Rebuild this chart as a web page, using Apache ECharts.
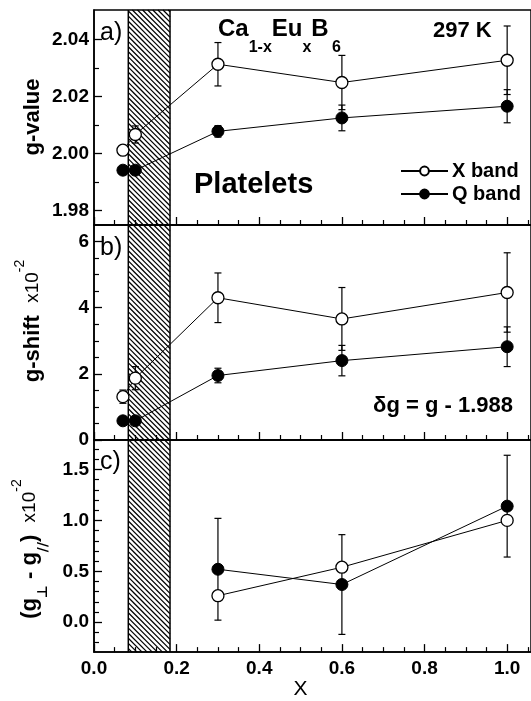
<!DOCTYPE html>
<html>
<head>
<meta charset="utf-8">
<script src="https://cdn.jsdelivr.net/npm/echarts@6/dist/echarts.min.js"></script>
<style>
html,body{margin:0;padding:0;background:#fff;}
#c{width:531px;height:701px;}
</style>
</head>
<body>
<div id="c"></div>
<script>
// ---------------- data ----------------
const xValues = [0.07, 0.1, 0.3, 0.6, 1.0];
// panel a) g-value
const gX = [2.0012, 2.0067, 2.0313, 2.0249, 2.0327];
const gXErr = [0.001, 0.003, 0.0076, 0.0095, 0.012];
const gQ = [1.9942, 1.9942, 2.0078, 2.0125, 2.0166];
const gQErr = [0, 0, 0.002, 0.0045, 0.0058];
// panel b) g-shift x10^-2
const shiftX = [1.31, 1.87, 4.30, 3.66, 4.46];
const shiftXErr = [0.2, 0.35, 0.75, 0.95, 1.2];
const shiftQ = [0.58, 0.58, 1.95, 2.40, 2.82];
const shiftQErr = [0, 0, 0.22, 0.46, 0.6];
// panel c) anisotropy x10^-2
const anisoXValues = [0.3, 0.6, 1.0];
const anisoX = [0.26, 0.54, 1.0];
const anisoQ = [0.52, 0.37, 1.14];
const anisoQErr = [0.5, 0.49, 0.5];
// hatched region
const hatchRange = [0.083, 0.184];
// ticks
const xMajor = [0, 0.2, 0.4, 0.6, 0.8, 1.0];
const xMinor = [0.05, 0.1, 0.15, 0.25, 0.3, 0.35, 0.45, 0.5, 0.55, 0.65, 0.7, 0.75, 0.85, 0.9, 0.95, 1.05];
const aMajor = [1.98, 2.00, 2.02, 2.04];
const aMinor = [1.99, 2.01, 2.03];
const bMajor = [0, 2, 4, 6];
const bMinor = [0.5, 1, 1.5, 2.5, 3, 3.5, 4.5, 5, 5.5];
const cMajor = [0.0, 0.5, 1.0, 1.5];
const cMinor = [-0.2, -0.1, 0.1, 0.2, 0.3, 0.4, 0.6, 0.7, 0.8, 0.9, 1.1, 1.2, 1.3, 1.4, 1.6, 1.7];

// ---------------- chart ----------------
const FONT = '"Liberation Sans", Arial, Helvetica, sans-serif';
const X_MAX = 1.0577;
const chart = echarts.init(document.getElementById('c'), null, {renderer: 'canvas'});

const gridTops = [10, 225, 440];
const grids = gridTops.map(t => ({
  left: 94, top: t, width: 440, height: 215,
  show: true, borderColor: '#000', borderWidth: 1.5, backgroundColor: 'rgba(0,0,0,0)'
}));

function xAxes(gi, withLabels) {
  const major = {
    type: 'value', gridIndex: gi, position: 'bottom', min: 0, max: X_MAX,
    axisLine: {show: true, onZero: false, lineStyle: {color: '#000', width: 1.5}},
    axisTick: {show: true, inside: true, length: 8, customValues: xMajor, lineStyle: {color: '#000', width: 1.3}},
    axisLabel: {show: withLabels, customValues: xMajor, formatter: v => v.toFixed(1), color: '#000',
      fontSize: 19, fontWeight: 'bold', fontFamily: FONT, margin: 7},
    splitLine: {show: false}
  };
  if (withLabels) {
    major.name = 'X';
    major.nameLocation = 'middle';
    major.nameGap = 25;
    major.nameTextStyle = {color: '#000', fontSize: 21, fontFamily: FONT, fontWeight: 'normal', padding: [0, 24, 0, 0]};
  }
  const minor = {
    type: 'value', gridIndex: gi, position: 'bottom', min: 0, max: X_MAX,
    axisLine: {show: false, onZero: false},
    axisTick: {show: true, inside: true, length: 5, customValues: xMinor, lineStyle: {color: '#000', width: 1.2}},
    axisLabel: {show: false}, splitLine: {show: false}
  };
  return [major, minor];
}

function yAxes(gi, min, max, major, minor, fmt) {
  return [
    {
      type: 'value', gridIndex: gi, position: 'left', min: min, max: max,
      axisLine: {show: true, onZero: false, lineStyle: {color: '#000', width: 1.5}},
      axisTick: {show: true, inside: true, length: 8, customValues: major, lineStyle: {color: '#000', width: 1.3}},
      axisLabel: {show: true, customValues: major, formatter: fmt, color: '#000',
        fontSize: 19, fontWeight: 'bold', fontFamily: FONT, margin: 5},
      splitLine: {show: false}
    },
    {
      type: 'value', gridIndex: gi, position: 'left', min: min, max: max,
      axisLine: {show: false, onZero: false},
      axisTick: {show: true, inside: true, length: 5, customValues: minor, lineStyle: {color: '#000', width: 1.2}},
      axisLabel: {show: false}, splitLine: {show: false}
    }
  ];
}

const xAxisList = [].concat(xAxes(0, false), xAxes(1, false), xAxes(2, true));
const yAxisList = [].concat(
  yAxes(0, 1.975, 2.0503, aMajor, aMinor, v => v.toFixed(2)),
  yAxes(1, 0, 6.5, bMajor, bMinor, v => String(Math.round(v))),
  yAxes(2, -0.294, 1.79, cMajor, cMinor, v => v.toFixed(1))
);

function errRender(params, api) {
  const x = api.value(0), lo = api.value(1), hi = api.value(2);
  if (hi - lo <= 0) return null;
  const p1 = api.coord([x, lo]);
  const p2 = api.coord([x, hi]);
  const w = 3.5;
  const st = {stroke: '#000', lineWidth: 1.2};
  return {
    type: 'group',
    children: [
      {type: 'line', shape: {x1: p1[0], y1: p1[1], x2: p2[0], y2: p2[1]}, style: st},
      {type: 'line', shape: {x1: p1[0] - w, y1: p1[1], x2: p1[0] + w, y2: p1[1]}, style: st},
      {type: 'line', shape: {x1: p2[0] - w, y1: p2[1], x2: p2[0] + w, y2: p2[1]}, style: st}
    ]
  };
}

function hatchRender(params, api) {
  const cs = params.coordSys;
  const xa = api.coord([api.value(0), 0])[0];
  const xb = api.coord([api.value(1), 0])[0];
  const yt = cs.y, yb = cs.y + cs.height;
  const s = 5.1;
  const children = [];
  const cMin = Math.floor((xa - yb) / s) * s;
  const cMax = xb - yt;
  for (let c = cMin; c <= cMax; c += s) {
    const x1 = Math.max(xa, yt + c);
    const x2 = Math.min(xb, yb + c);
    if (x2 > x1) {
      children.push({type: 'line', shape: {x1: x1, y1: x1 - c, x2: x2, y2: x2 - c},
        style: {stroke: '#000', lineWidth: 1.25}});
    }
  }
  children.push({type: 'line', shape: {x1: xa, y1: yt, x2: xa, y2: yb}, style: {stroke: '#000', lineWidth: 1.5}});
  children.push({type: 'line', shape: {x1: xb, y1: yt, x2: xb, y2: yb}, style: {stroke: '#000', lineWidth: 1.5}});
  return {type: 'group', children: children};
}

function pairs(xs, ys) { return xs.map((x, i) => [x, ys[i]]); }
function errData(xs, ys, es) { return xs.map((x, i) => [x, ys[i] - es[i], ys[i] + es[i]]); }

const openStyle = {color: '#fff', borderColor: '#000', borderWidth: 1.3};
const fillStyle = {color: '#000', borderColor: '#000', borderWidth: 1};

function panelSeries(gi, xsX, yX, eX, xsQ, yQ, eQ) {
  const xi = gi * 2, yi = gi * 2;
  const list = [
    {type: 'custom', name: 'hatch' + gi, xAxisIndex: xi, yAxisIndex: yi, renderItem: hatchRender,
      data: [[hatchRange[0], hatchRange[1]]], encode: {x: [0, 1]}, z: 1, silent: true, clip: false},
  ];
  if (eX) list.push({type: 'custom', name: 'errX' + gi, xAxisIndex: xi, yAxisIndex: yi, renderItem: errRender,
      data: errData(xsX, yX, eX), encode: {x: 0, y: [1, 2]}, z: 2, silent: true});
  if (eQ) list.push({type: 'custom', name: 'errQ' + gi, xAxisIndex: xi, yAxisIndex: yi, renderItem: errRender,
      data: errData(xsQ, yQ, eQ), encode: {x: 0, y: [1, 2]}, z: 2, silent: true});
  list.push({type: 'line', name: 'X band', xAxisIndex: xi, yAxisIndex: yi, data: pairs(xsX, yX),
    symbol: 'circle', symbolSize: 12, lineStyle: {color: '#000', width: 1}, itemStyle: openStyle, z: 3});
  list.push({type: 'line', name: 'Q band', xAxisIndex: xi, yAxisIndex: yi, data: pairs(xsQ, yQ),
    symbol: 'circle', symbolSize: 12, lineStyle: {color: '#000', width: 1}, itemStyle: fillStyle, z: 4});
  return list;
}

const series = [].concat(
  panelSeries(0, xValues, gX, gXErr, xValues, gQ, gQErr),
  panelSeries(1, xValues, shiftX, shiftXErr, xValues, shiftQ, shiftQErr),
  panelSeries(2, anisoXValues, anisoX, null, anisoXValues, anisoQ, anisoQErr)
);

const titleRich = {
  m: {fontSize: 22, fontWeight: 'bold', fontFamily: FONT, color: '#000', lineHeight: 40},
  n: {fontSize: 19, fontWeight: 'normal', fontFamily: FONT, color: '#000', lineHeight: 40},
  sup: {fontSize: 14, fontWeight: 'normal', fontFamily: FONT, color: '#000', lineHeight: 14, verticalAlign: 'top'},
  sub: {fontSize: 14, fontWeight: 'bold', fontFamily: 'DejaVu Sans', color: '#000', lineHeight: 24, verticalAlign: 'bottom'}
};

const option = {
  animation: false,
  backgroundColor: '#fff',
  grid: grids,
  xAxis: xAxisList,
  yAxis: yAxisList,
  legend: {
    data: ['X band', 'Q band'],
    orient: 'vertical', left: 400, top: 161, padding: 0, itemGap: 3,
    itemWidth: 47, itemHeight: 11,
    textStyle: {color: '#000', fontSize: 20, fontWeight: 'bold', fontFamily: FONT, padding: [0, 0, 0, -1]},
    selectedMode: false
  },
  series: series,
  graphic: [
    {type: 'text', x: 218, y: 29, z: 10, style: {
      text: '{m|Ca}{s|1-x}{m|Eu}{s|x}{m|B} {s|6}',
      verticalAlign: 'middle', align: 'left',
      rich: {
        m: {fontSize: 24, fontWeight: 'bold', fontFamily: FONT, fill: '#000', lineHeight: 54},
        s: {fontSize: 16, fontWeight: 'bold', fontFamily: FONT, fill: '#000', lineHeight: 20, verticalAlign: 'bottom'}
      }
    }},
    {type: 'text', x: 433, y: 31, z: 10, style: {text: '297 K', fontSize: 22, fontWeight: 'bold', fontFamily: FONT, fill: '#000', verticalAlign: 'middle'}},
    {type: 'text', x: 194, y: 185, z: 10, style: {text: 'Platelets', fontSize: 29, fontWeight: 'bold', fontFamily: FONT, fill: '#000', verticalAlign: 'middle'}},
    {type: 'text', x: 513, y: 406, z: 10, style: {text: 'δg = g - 1.988', fontSize: 22, fontWeight: 'bold', fontFamily: FONT, fill: '#000', align: 'right', verticalAlign: 'middle'}},
    {type: 'text', x: 100, y: 33, z: 10, style: {text: 'a)', fontSize: 25, fontFamily: FONT, fill: '#000', verticalAlign: 'middle'}},
    {type: 'text', x: 100, y: 248, z: 10, style: {text: 'b)', fontSize: 25, fontFamily: FONT, fill: '#000', verticalAlign: 'middle'}},
    {type: 'text', x: 100, y: 462, z: 10, style: {text: 'c)', fontSize: 25, fontFamily: FONT, fill: '#000', verticalAlign: 'middle'}},
    {type: 'text', x: 33, y: 117, rotation: Math.PI / 2, z: 10, style: {
      text: '{m|g-value}', align: 'center', verticalAlign: 'middle', rich: titleRich}},
    {type: 'text', x: 33, y: 321, rotation: Math.PI / 2, z: 10, style: {
      text: '{m|g-shift  }{n|x10}{sup|-2}', align: 'center', verticalAlign: 'middle', rich: titleRich}},
    {type: 'text', x: 30, y: 549, rotation: Math.PI / 2, z: 10, style: {
      text: '{m|(g}{sub|⊥}{m| - g}{sub|//}{m|)  }{n|x10}{sup|-2}', align: 'center', verticalAlign: 'middle', rich: titleRich}}
  ]
};

chart.setOption(option);
</script>
</body>
</html>
